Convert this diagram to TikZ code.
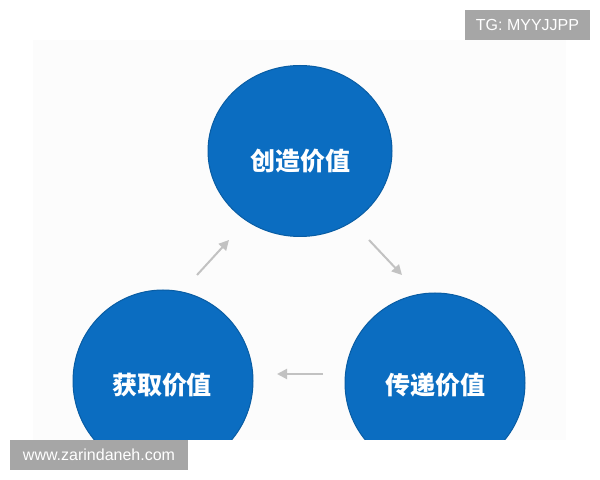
\documentclass[tikz,border=0pt]{standalone}
\usepackage{fontspec}
\setmainfont{Liberation Sans}
\newfontfamily\cjk{Noto Sans CJK SC}
\usetikzlibrary{arrows.meta, shapes.geometric}
\definecolor{valueblue}{HTML}{0B6DC1}
\definecolor{markgray}{HTML}{A6A6A6}
\definecolor{arrowgray}{HTML}{C2C2C2}

\begin{document}
\begin{tikzpicture}[x=0.5pt,y=-0.5pt,-{Triangle[length=5pt,width=5pt]},draw=arrowgray,line width=1pt]
    \tikzstyle{value}=[ellipse,fill=valueblue,draw=valueblue!85!black,line width=0.5pt,inner sep=0pt]
    \tikzstyle{valuetext}=[text=white,font=\cjk\bfseries\fontsize{12.5pt}{14pt}\selectfont]
    \tikzstyle{markbox}=[fill=markgray,text=white,inner sep=0pt,font=\fontsize{8pt}{9pt}\selectfont]

    \useasboundingbox (0,0) rectangle (600,480);
    \fill[white!98.8!black] (33,40) rectangle (566,440);

    \begin{scope}
    \clip (0,0) rectangle (600,440);
    \node[value, minimum width=92pt, minimum height=85.5pt] (create) at (300,151) {};
    \node[value, minimum width=90pt, minimum height=91pt] (capture) at (163,381) {};
    \node[value, minimum width=90pt, minimum height=90pt] (deliver) at (435,383) {};
    \end{scope}

    \node[valuetext] (createtext) at (300,161) {创造价值};
    \node[valuetext] (capturetext) at (162,385) {获取价值};
    \node[valuetext] (delivertext) at (435,385) {传递价值};

    \coordinate (a1) at (197,275);
    \coordinate (a2) at (229,240);
    \coordinate (b1) at (369,240);
    \coordinate (b2) at (402,275);
    \coordinate (c1) at (323,374);
    \coordinate (c2) at (277,374);
    \draw (a1) -- (a2);
    \draw (b1) -- (b2);
    \draw (c1) -- (c2);

    \node[markbox, minimum width=62.5pt, minimum height=15pt] (tg) at (527.5,25) {TG: MYYJJPP};
    \node[markbox, minimum width=89pt, minimum height=15pt] (www) at (99,455) {www.zarindaneh.com};

\end{tikzpicture}
\end{document}
